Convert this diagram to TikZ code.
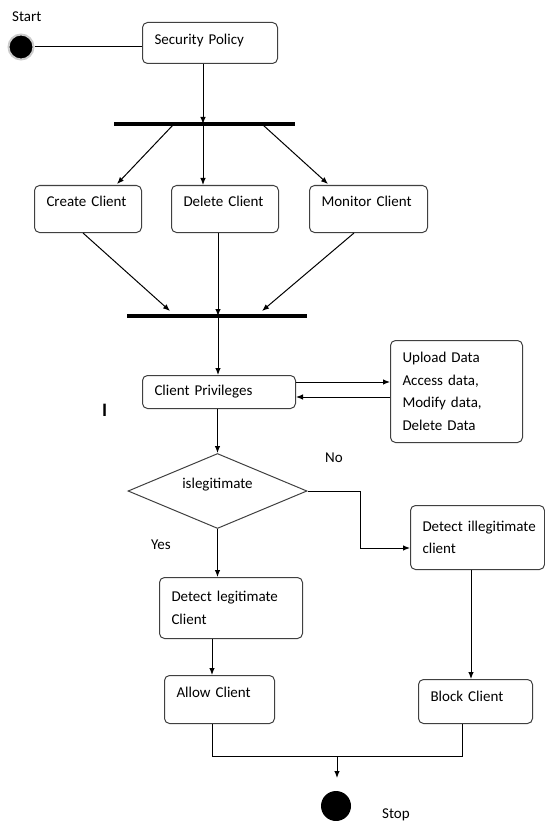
\documentclass[tikz,border=0pt]{standalone}
\usepackage{fontspec}
\setmainfont{Carlito}
\usetikzlibrary{arrows.meta,shapes.geometric}

\begin{document}
\begin{tikzpicture}[x=1pt, y=-1pt,
        box/.style={draw=black!75, line width=1pt, rounded corners=5pt, anchor=north west,
            align=left, inner xsep=12pt, inner ysep=0pt, font=\fontsize{15}{22.5}\selectfont},
        bar/.style={line width=4pt},
        arr/.style={-{Latex[length=7pt,width=5.5pt]}, line width=1pt},
        lbl/.style={anchor=west, inner sep=0pt, font=\fontsize{15}{18}\selectfont}]
        \useasboundingbox (0,0) rectangle (544,821);
        % start and first activity
        \node [circle, fill=black, draw=black!20, line width=2pt, minimum size=25pt, inner sep=0pt] (start) at (21,47) {};
        \node [lbl] (starttxt) at (12,17) {Start};
        \node [box, text width=111pt, minimum height=41pt, text depth=8pt] (policy) at (142,22) {Security Policy};
        \draw [line width=1pt] (start) -- (start -| policy.west);
        % fork
        \coordinate (fork1w) at (114,124);
        \coordinate (fork1e) at (295,124);
        \coordinate (fork1a) at (173,125);
        \coordinate (fork1b) at (203,124);
        \coordinate (fork1c) at (263,125);
        \draw [bar] (fork1w) -- (fork1e);
        \draw [arr] (policy.south -| fork1b) -- (fork1b);
        \node [box, text width=83pt, minimum height=47pt, text depth=15pt] (create) at (34,185) {Create Client};
        \node [box, text width=83pt, minimum height=47pt, text depth=15pt] (delete) at (171,185) {Delete Client};
        \node [box, text width=94pt, minimum height=47pt, text depth=15pt] (monitor) at (309,185) {Monitor Client};
        \coordinate (createin) at (117,184);
        \coordinate (monitorin) at (328,184);
        \draw [arr] (fork1a) -- (createin);
        \draw [arr] (fork1b) -- (fork1b |- delete.north);
        \draw [arr] (fork1c) -- (monitorin);
        % join
        \coordinate (join1w) at (127,316);
        \coordinate (join1e) at (307,316);
        \coordinate (join1a) at (170,311);
        \coordinate (join1b) at (218,316);
        \coordinate (join1c) at (262,311);
        \draw [bar] (join1w) -- (join1e);
        \draw [arr] (create.south -| 83,0) -- (join1a);
        \draw [arr] (delete.south -| join1b) -- (join1b);
        \draw [arr] (monitor.south -| 354,0) -- (join1c);
        % privileges
        \node [box, text width=129pt, minimum height=33pt] (privil) at (142,375) {Client Privileges};
        \node [box, text width=108pt, minimum height=102pt] (ops) at (390,340) {Upload Data\\Access data,\\Modify data,\\Delete Data};
        \draw [arr] (privil.east |- 0,382) -- (ops.west |- 0,382);
        \draw [arr] (ops.west |- 0,397) -- (privil.east |- 0,397);
        \draw [arr] (join1b) -- (join1b |- privil.north);
        \node [lbl, font=\fontsize{19}{20}\bfseries] (mark) at (102,410) {I};
        % decision
        \node [diamond, draw=black!75, line width=1pt, shape aspect=2.4, minimum width=179pt, minimum height=75pt,
            inner sep=0pt, text depth=15pt, font=\fontsize{15}{18}\selectfont] (legitq) at (217.5,491) {islegitimate};
        \draw [arr] (privil.south -| legitq.north) -- (legitq.north);
        \node [lbl] (notxt) at (325,458) {No};
        \node [lbl] (yestxt) at (151,545) {Yes};
        \node [box, text width=110pt, minimum height=64pt] (illegit) at (410,505) {\mbox{Detect illegitimate}\\client};
        \node [box, text width=119pt, minimum height=61pt] (legit) at (159,577) {Detect legitimate\\Client};
        \draw [arr] (legitq.east) -- (360,491) -- (360,548) -- (illegit.west |- 0,548);
        \draw [arr] (legitq.south) -- (legitq.south |- legit.north);
        % outcomes
        \node [box, text width=86pt, minimum height=48pt, text depth=15pt] (allow) at (164,675) {Allow Client};
        \node [box, text width=90pt, minimum height=44pt, text depth=11pt] (block) at (418,679) {Block Client};
        \draw [arr] (legit.south -| 212,0) -- (allow.north -| 212,0);
        \draw [arr] (illegit.south -| 471,0) -- (block.north -| 471,0);
        \draw [line width=1pt] (allow.south -| 212,0) -- (212,756) -- (462,756) -- (block.south -| 462,0);
        % stop
        \node [circle, fill=black, minimum size=30pt, inner sep=0pt] (stop) at (336,806) {};
        \coordinate (stopin) at (337,778);
        \draw [arr] (337,756) -- (stopin);
        \node [lbl] (stoptxt) at (382,815) {Stop};
    \end{tikzpicture}
\end{document}
